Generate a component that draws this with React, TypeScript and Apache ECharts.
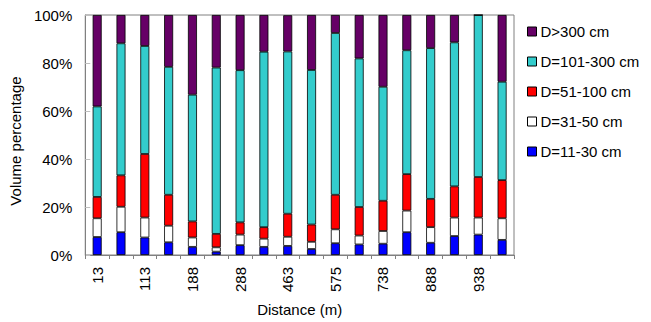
import React, { useEffect, useRef } from "react";
import * as echarts from "echarts";

const categories = ["13", "63", "113", "150", "188", "238", "288", "375", "463", "519", "575", "656", "738", "813", "888", "913", "938", "988"];
const yTicks = [0, 20, 40, 60, 80, 100];
const d11_30 = [7.5, 9.5, 7.3, 5.3, 3.4, 1.4, 4.1, 3.4, 3.8, 2.5, 4.9, 4.4, 4.7, 9.5, 5.1, 7.9, 8.5, 6.3];
const d31_50 = [7.8, 10.6, 8.3, 6.9, 3.9, 1.8, 4.4, 3.4, 3.8, 3.0, 5.8, 3.7, 5.3, 9.0, 6.5, 7.7, 7.1, 9.0];
const d51_100 = [8.9, 13.1, 26.5, 12.9, 6.7, 5.6, 5.1, 4.8, 9.6, 7.2, 14.4, 11.9, 12.6, 15.2, 11.8, 13.0, 16.9, 15.9];
const d101_300 = [37.7, 55.0, 45.0, 53.3, 52.8, 69.3, 63.4, 73.1, 67.6, 64.4, 67.4, 61.9, 47.5, 51.6, 62.8, 60.0, 67.5, 41.0];
const d300 = [38.1, 11.8, 12.9, 21.6, 33.2, 21.9, 23.0, 15.3, 15.1, 22.9, 7.5, 18.1, 29.9, 14.7, 13.8, 11.4, 0, 27.8];

const seriesNames = ["D=11-30 cm", "D=31-50 cm", "D=51-100 cm", "D=101-300 cm", "D>300 cm"];
const seriesData = [d11_30, d31_50, d51_100, d101_300, d300];
const colors = ["#0000FF", "#FFFFFF", "#FF0000", "#33CCCC", "#660066"];

const FONT = "'Liberation Sans', Arial, sans-serif";

export default function App() {
  const ref = useRef<HTMLDivElement>(null);
  useEffect(() => {
    if (!ref.current) return;
    const chart = echarts.init(ref.current, null, { renderer: "svg" });
    chart.setOption({
      animation: false,
      backgroundColor: "#ffffff",
      textStyle: { fontFamily: FONT },
      grid: {
        left: 85,
        right: 137,
        top: 15,
        bottom: 64,
        show: true,
        borderColor: "#808080",
        borderWidth: 1,
      },
      legend: {
        orient: "vertical",
        left: 527,
        top: 24,
        padding: 0,
        itemWidth: 9,
        itemHeight: 9,
        itemGap: 15,
        icon: "rect",
        data: ["D>300 cm", "D=101-300 cm", "D=51-100 cm", "D=31-50 cm", "D=11-30 cm"],
        textStyle: { fontFamily: FONT, fontSize: 15, color: "#000", lineHeight: 15, padding: [0, 0, 0, -1] },
        itemStyle: { borderColor: "#000", borderWidth: 1 },
      },
      xAxis: {
        type: "category",
        data: categories,
        name: "Distance (m)",
        nameLocation: "middle",
        nameGap: 47,
        nameTextStyle: { fontFamily: FONT, fontSize: 15, color: "#000" },
        axisLine: { lineStyle: { color: "#808080" } },
        axisTick: { show: true, interval: 0, length: 4, lineStyle: { color: "#808080" } },
        axisLabel: {
          interval: 1,
          rotate: 90,
          margin: 12,
          fontFamily: FONT,
          fontSize: 15,
          color: "#000",
        },
      },
      yAxis: {
        type: "value",
        min: 0,
        max: 100,
        interval: 20,
        name: "Volume percentage",
        nameLocation: "middle",
        nameGap: 55,
        nameTextStyle: { fontFamily: FONT, fontSize: 15, color: "#000", padding: [0, 12, 0, 0] },
        axisLine: { show: true, lineStyle: { color: "#808080" } },
        axisTick: { show: true, inside: true, length: 5, lineStyle: { color: "#c0c0c0" } },
        splitLine: { show: false },
        axisLabel: {
          margin: 13,
          fontFamily: FONT,
          fontSize: 15,
          color: "#000",
          formatter: (v: number) => (yTicks.includes(v) ? v + "%" : ""),
        },
      },
      series: seriesNames.map((name, i) => ({
        name,
        type: "bar",
        stack: "total",
        barWidth: 9,
        data: seriesData[i],
        itemStyle: { color: colors[i], borderColor: "#000", borderWidth: 0.8 },
      })),
    });
    return () => chart.dispose();
  }, []);
  return <div ref={ref} style={{ position: "fixed", left: 0, top: 0, width: 651, height: 322 }} />;
}
